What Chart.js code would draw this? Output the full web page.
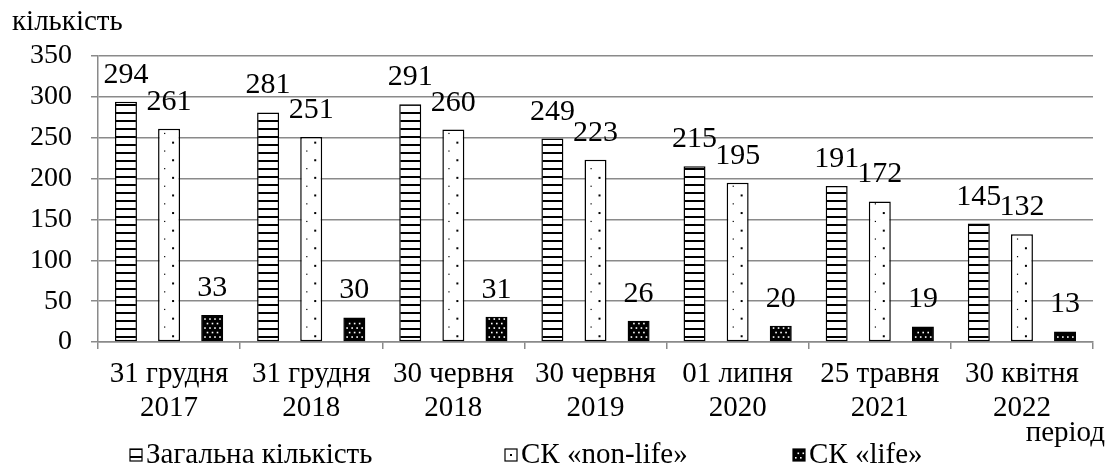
<!DOCTYPE html>
<html>
<head>
<meta charset="utf-8">
<script src="https://cdn.jsdelivr.net/npm/chart.js@4.4.0/dist/chart.umd.min.js"></script>
</head>
<body style="margin:0;background:#fff">
<div style="width:1109px;height:467px"><canvas id="chart" width="1109" height="467"></canvas></div>
<script>
// Data
const periods = [
    ['31 грудня', '2017'],
    ['31 грудня', '2018'],
    ['30 червня', '2018'],
    ['30 червня', '2019'],
    ['01 липня', '2020'],
    ['25 травня', '2021'],
    ['30 квітня', '2022']
];
const totalCount = [294, 281, 291, 249, 215, 191, 145];
const nonLifeCount = [261, 251, 260, 223, 195, 172, 132];
const lifeCount = [33, 30, 31, 26, 20, 19, 13];
const seriesNames = ['Загальна кількість', 'СК «non-life»', 'СК «life»'];
const yMax = 350;
const yStep = 50;

const FONT = '"Liberation Serif"';
const GRID = '#8a8a8a';

const canvas = document.getElementById('chart');

// Hatch fills drawn inside a rectangle (Excel-like patterns)
function hatch(c, kind, left, top, right, bottom) {
    c.save();
    c.beginPath();
    c.rect(left, top, right - left, bottom - top);
    c.clip();
    if (kind === 0) {
        // horizontal lines
        c.fillStyle = '#000';
        for (let yy = Math.floor(bottom / 8) * 8; yy > top - 2; yy -= 8) {
            c.fillRect(left, yy, right - left, 2);
        }
    } else if (kind === 1) {
        // sparse dots
        c.fillStyle = '#000';
        let n = 0;
        for (let yy = bottom - 5; yy > top; yy -= 8.8, n++) {
            if (n % 2 === 0) c.fillRect(left + 13, yy, 2, 2);
            else c.fillRect(left + 5, yy, 1.2, 1.2);
        }
    } else {
        // black with white dots
        c.fillStyle = '#000';
        c.fillRect(left, top, right - left, bottom - top);
        c.fillStyle = '#fff';
        let n = 0;
        for (let yy = bottom - 4; yy > top; yy -= 4.5, n++) {
            for (let xx = left + 2 + (n % 2) * 2.5; xx < right - 1; xx += 5) {
                c.fillRect(xx, yy, 1.6, 1.6);
            }
        }
    }
    c.restore();
}

// Hatches, value labels, legend and axis captions
const extrasPlugin = {
    id: 'extras',
    afterDatasetsDraw(chart) {
        const c = chart.ctx;
        chart.data.datasets.forEach((ds, i) => {
            chart.getDatasetMeta(i).data.forEach(bar => {
                const inset = 1;
                const left = bar.x - bar.width / 2 + inset;
                const right = bar.x + bar.width / 2 - inset;
                const top = Math.min(bar.y, bar.base) + inset;
                const bottom = Math.max(bar.y, bar.base) - inset;
                hatch(c, i, left, top, right, bottom);
            });
        });
    },
    afterDraw(chart) {
        const c = chart.ctx;
        c.save();
        c.fillStyle = '#000';
        c.font = '30px ' + FONT;
        c.textAlign = 'center';
        c.textBaseline = 'alphabetic';
        chart.data.datasets.forEach((ds, i) => {
            chart.getDatasetMeta(i).data.forEach((bar, j) => {
                c.fillText(String(ds.data[j]), bar.x, bar.y - 19);
            });
        });

        // legend
        const legendX = [130, 505, 793];
        const baseY = 463;
        c.font = '29px ' + FONT;
        c.textAlign = 'left';
        seriesNames.forEach((name, i) => {
            const x = legendX[i];
            c.fillStyle = '#fff';
            c.fillRect(x, baseY - 14, 12, 12);
            if (i === 1) {
                c.fillStyle = '#000';
                c.fillRect(x + 5, baseY - 9, 2, 2);
            } else {
                hatch(c, i, x, baseY - 14, x + 12, baseY - 2);
            }
            c.strokeStyle = '#000';
            c.lineWidth = 1.2;
            c.strokeRect(x, baseY - 14, 12, 12);
            c.fillStyle = '#000';
            c.fillText(name, x + 16, baseY);
        });

        // axis captions
        c.textAlign = 'left';
        c.fillText('кількість', 12, 30);
        c.textAlign = 'right';
        c.fillText('період', 1105, 441);
        c.restore();
    }
};

new Chart(canvas, {
    type: 'bar',
    data: {
        labels: periods,
        datasets: [totalCount, nonLifeCount, lifeCount].map((values, i) => ({
            label: seriesNames[i],
            data: values,
            backgroundColor: i === 2 ? '#000' : '#fff',
            borderColor: '#000',
            borderWidth: 1.5,
            borderSkipped: false,
            categoryPercentage: 0.91,
            barPercentage: 0.51
        }))
    },
    options: {
        responsive: false,
        animation: false,
        font: { family: FONT },
        layout: {
            padding: { top: 56, right: 16, bottom: 0, left: 0 }
        },
        plugins: {
            legend: { display: false },
            tooltip: { enabled: false }
        },
        scales: {
            x: {
                afterFit: scale => { scale.height = 125; },
                grid: {
                    drawOnChartArea: false,
                    drawTicks: true,
                    tickLength: 7,
                    color: GRID,
                    lineWidth: 1.5
                },
                border: { color: GRID, width: 1.5 },
                ticks: {
                    color: '#000',
                    padding: 9,
                    maxRotation: 0,
                    font: { family: FONT, size: 29, lineHeight: 1.16 }
                }
            },
            y: {
                min: 0,
                max: yMax,
                afterFit: scale => { scale.width = 98; },
                grid: {
                    color: GRID,
                    lineWidth: 1.5,
                    tickLength: 7
                },
                border: { color: GRID, width: 1.5 },
                ticks: {
                    stepSize: yStep,
                    color: '#000',
                    padding: 19,
                    font: { family: FONT, size: 28 }
                }
            }
        }
    },
    plugins: [extrasPlugin]
});
</script>
</body>
</html>
